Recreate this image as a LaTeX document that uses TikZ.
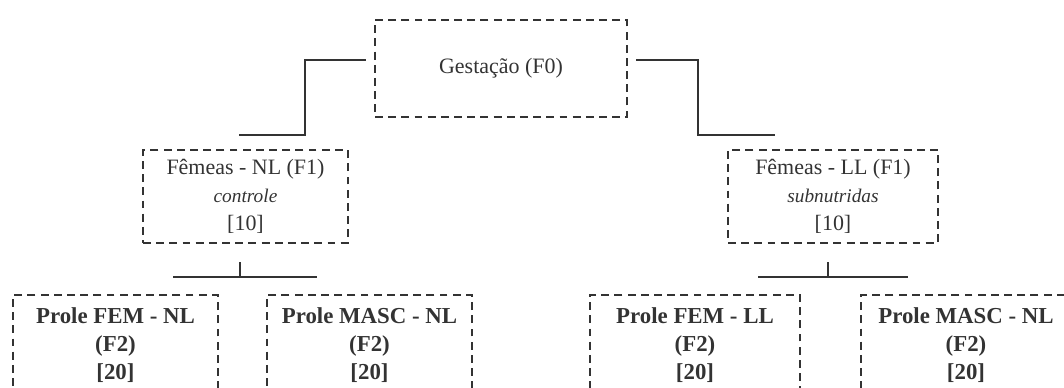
\documentclass[tikz,border=0pt]{standalone}
\usepackage{fontspec}
\setmainfont{Liberation Serif}
\begin{document}
\begin{tikzpicture}[x=0.02cm, y=-0.02cm,
	box/.style={draw=black!80, dash pattern=on 4.5pt off 3pt, line width=1.6pt,
		align=center, inner sep=0pt, text=black!80,
		font=\fontsize{12.5}{16}\selectfont},
	prole/.style={box, font=\fontsize{13}{16}\selectfont\bfseries},
	link/.style={draw=black!80, line width=1.4pt}]
\useasboundingbox (0,0) rectangle (1064,388);
\node[box, minimum width=5.04cm, minimum height=1.94cm] (f0) at (501,68.5) {Gestação (F0)};
\node[box, minimum width=4.1cm, minimum height=1.86cm] (nl) at (245.5,196.5)
	{Fêmeas - NL (F1)\\ {\fontsize{11}{12}\selectfont\itshape controle}\\ {[10]}};
\node[box, minimum width=4.2cm, minimum height=1.86cm] (ll) at (833,196.5)
	{Fêmeas - LL (F1)\\ {\fontsize{11}{12}\selectfont\itshape subnutridas}\\ {[10]}};
\node[prole, minimum width=4.1cm, minimum height=2cm] (femnl) at (115.5,345)
	{Prole FEM - NL\\ (F2)\\ {[20]}};
\node[prole, minimum width=4.1cm, minimum height=2cm] (mascnl) at (369.5,345)
	{Prole MASC - NL\\ (F2)\\ {[20]}};
\node[prole, minimum width=4.2cm, minimum height=2cm] (femll) at (695,345)
	{Prole FEM - LL\\ (F2)\\ {[20]}};
\node[prole, minimum width=4.2cm, minimum height=2cm] (mascll) at (966,345)
	{Prole MASC - NL\\ (F2)\\ {[20]}};
% elbows from F0
\coordinate (kl) at (305,135);
\coordinate (el) at (239,135);
\coordinate (kr) at (698,135);
\coordinate (er) at (775,135);
\draw[link] ([shift={(-8,-8.5)}]f0.west) -| (kl) -- (el);
\draw[link] ([shift={(8,-8.5)}]f0.east) -| (kr) -- (er);
% branches under F1
\foreach \n/\x/\a/\b in {nl/240/173/317, ll/828/758/908} {
	\coordinate (\n top) at (\x,262);
	\coordinate (\n mid) at (\x,277);
	\coordinate (\n a) at (\a,277);
	\coordinate (\n b) at (\b,277);
	\draw[link] (\n top) -- (\n mid) (\n a) -- (\n b);
}
\end{tikzpicture}
\end{document}
